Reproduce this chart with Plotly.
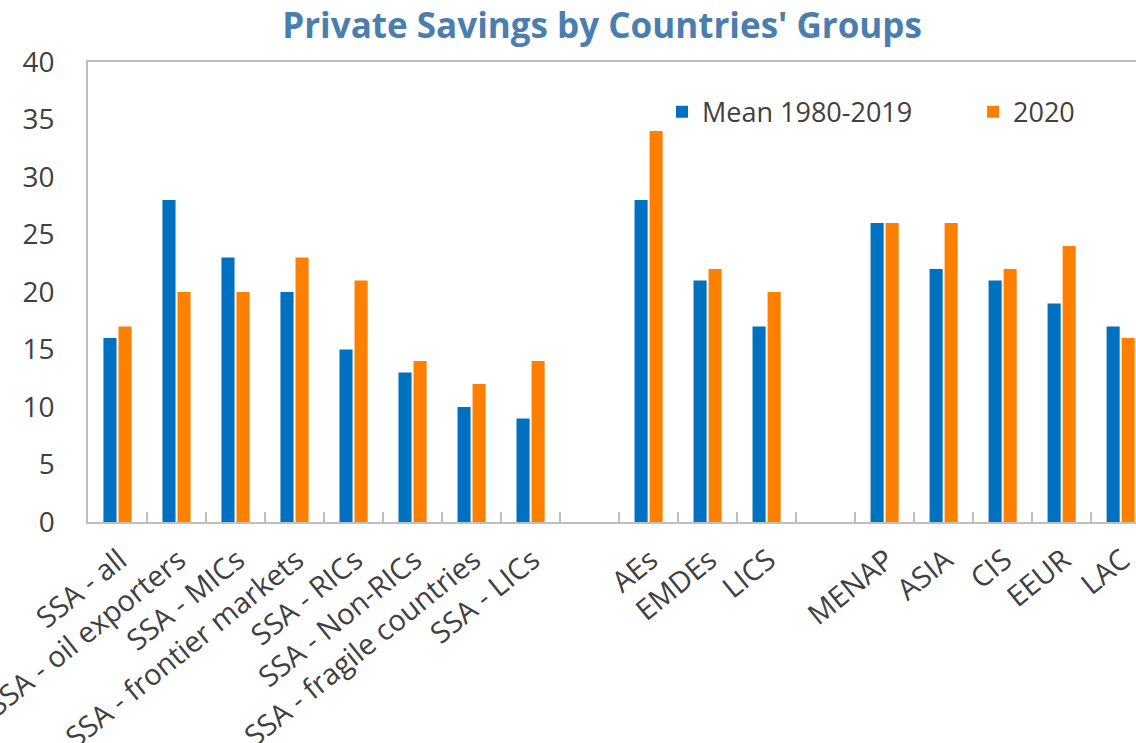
import plotly.graph_objects as go

# Country groups; the blank entries separate the three blocks of groups
categories = [
    "SSA - all", "SSA - oil exporters", "SSA - MICs", "SSA - frontier markets",
    "SSA - RICs", "SSA - Non-RICs", "SSA - fragile countries", "SSA - LICs",
    " ",
    "AEs", "EMDEs", "LICS",
    "  ",
    "MENAP", "ASIA", "CIS", "EEUR", "LAC",
]
mean_1980_2019 = [16, 28, 23, 20, 15, 13, 10, 9, None, 28, 21, 17, None, 26, 22, 21, 19, 17]
year_2020 = [17, 20, 20, 23, 21, 14, 12, 14, None, 34, 22, 20, None, 26, 26, 22, 24, 16]

BLUE = "#0070C0"
ORANGE = "#FF8000"
TEXT = "#404040"
AXIS = "#BFBFBF"
FONT = "Open Sans"

fig = go.Figure()
fig.add_trace(go.Bar(x=categories, y=mean_1980_2019, name="Mean 1980-2019",
                     marker=dict(color=BLUE, line=dict(width=0)), legend="legend"))
fig.add_trace(go.Bar(x=categories, y=year_2020, name="2020",
                     marker=dict(color=ORANGE, line=dict(width=0)), legend="legend2"))

legend_style = dict(yanchor="middle", y=0.891, xanchor="left",
                    font=dict(size=27, color=TEXT, family=FONT),
                    bgcolor="rgba(0,0,0,0)", itemwidth=30)

fig.update_layout(
    width=1136, height=743,
    margin=dict(l=88, r=0, t=62, b=221, autoexpand=False),
    paper_bgcolor="white", plot_bgcolor="white",
    barmode="group", bargap=0.49, bargroupgap=0.13,
    font=dict(family=FONT, color=TEXT, size=27),
    title=dict(text="<b>Private Savings by Countries' Groups</b>",
               x=0.53, xanchor="center", y=0.966, yanchor="middle",
               font=dict(family=FONT, size=35, color="#4A7EAF")),
    legend=dict(x=0.5477, **legend_style),
    legend2=dict(x=0.8445, **legend_style),
    showlegend=True,
)
fig.update_xaxes(
    type="category", range=[-0.5, 17.26], automargin=False,
    showline=True, linecolor=AXIS, linewidth=1.5, mirror=True,
    ticks="inside", tickson="boundaries", ticklen=10, tickcolor=AXIS, tickwidth=1.5,
    tickangle=-39, tickfont=dict(size=29, color=TEXT),
    ticklabelstandoff=8, ticklabelshift=2,
    showgrid=False,
)
fig.update_yaxes(
    range=[0, 40], dtick=5, showline=True, linecolor=AXIS, linewidth=1.5,
    automargin=False, showgrid=False, zeroline=False, ticks="", ticklabelstandoff=26,
    tickfont=dict(size=28, color=TEXT),
)

fig.write_html("out.html")
